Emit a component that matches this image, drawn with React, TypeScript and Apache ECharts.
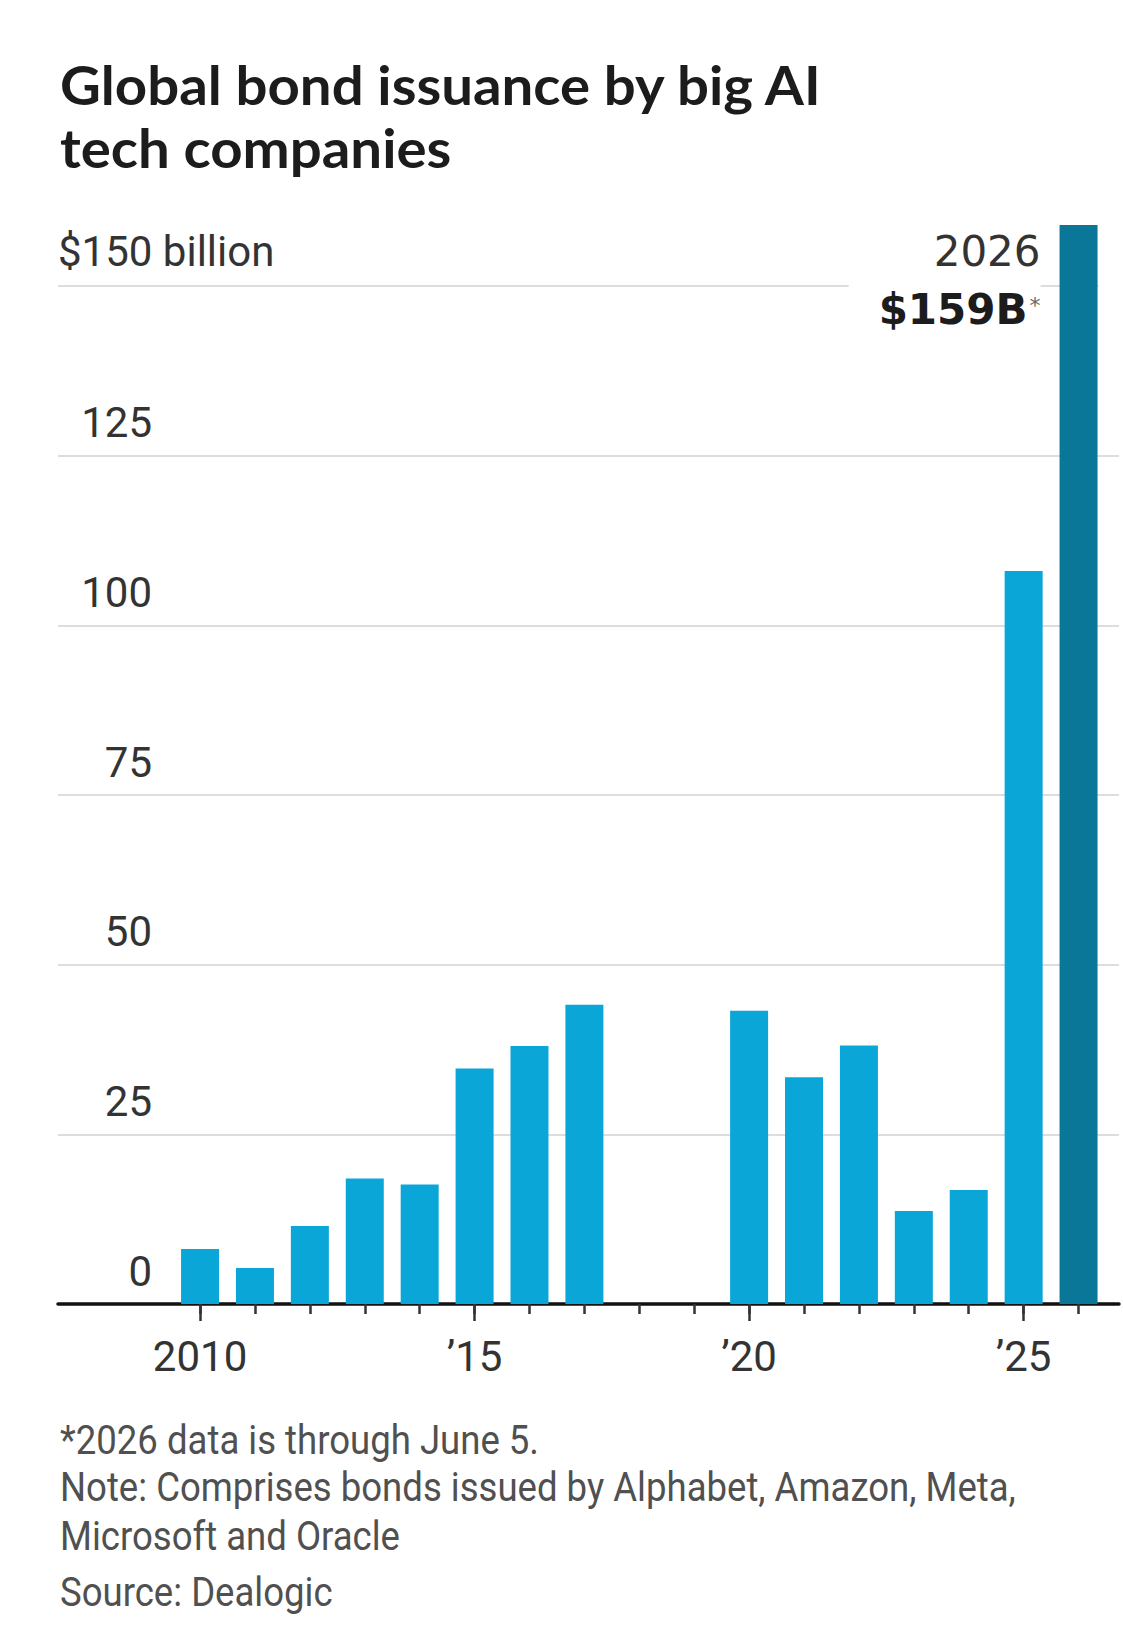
import React, { useEffect, useRef } from "react";
import * as echarts from "echarts";

// ---- data ----
const years = ["2010", "2011", "2012", "2013", "2014", "2015", "2016", "2017", "2018", "2019", "2020", "2021", "2022", "2023", "2024", "2025", "2026"];
const issuance = [8.1, 5.3, 11.5, 18.5, 17.6, 34.7, 38.0, 44.1, 0, 0, 43.2, 33.4, 38.1, 13.7, 16.8, 108.0, 159];
const yTicks = [0, 25, 50, 75, 100, 125, 150];
const majorYears = ["2010", "2015", "2020", "2025"];
const highlightYear = "2026";
const highlightLabel = "$159B";
const yAxisTitle = "$150 billion";
const titleLines = ["Global bond issuance by big AI", "tech companies"];
const noteLines = [
  "*2026 data is through June 5.",
  "Note: Comprises bonds issued by Alphabet, Amazon, Meta,",
  "Microsoft and Oracle",
  "Source: Dealogic",
];

const W = 1123;
const H = 1643;
const LIGHT = "#0aa6d8";
const DARK = "#0a7799";

function measure(text: string, font: string): number {
  const c = document.createElement("canvas").getContext("2d");
  if (!c) return 1;
  c.font = font;
  return c.measureText(text).width || 1;
}

export default function App() {
  const ref = useRef<HTMLDivElement>(null);
  useEffect(() => {
    if (!ref.current) return;
    const chart = echarts.init(ref.current, null, { renderer: "svg" });

    const titleFont = "bold 54px Lato";
    const titleScale = 764 / measure(titleLines[0], titleFont);
    const noteFont = "40px Roboto";
    const noteScale = 956 / measure(noteLines[1], noteFont);
    const titleBaselines = [105, 168];
    const noteBaselines = [1454, 1501, 1550, 1606];

    const yMax = yTicks[yTicks.length - 1];
    const tickStep = yTicks[1] - yTicks[0];

    const graphics: any[] = [];
    titleLines.forEach((t, i) => {
      graphics.push({
        type: "text",
        id: "title" + i,
        x: 60,
        y: titleBaselines[i] - 21,
        scaleX: titleScale,
        style: { text: t, font: titleFont, fill: "#1c1c1c", align: "left", verticalAlign: "middle" },
      });
    });
    noteLines.forEach((t, i) => {
      graphics.push({
        type: "text",
        id: "note" + i,
        x: 60,
        y: noteBaselines[i] - 14,
        scaleX: noteScale,
        style: { text: t, font: noteFont, fill: "#505050", align: "left", verticalAlign: "middle" },
      });
    });

    const isMajor = (_i: number, v: string) => majorYears.indexOf(String(v)) >= 0;

    const option: any = {
      animation: false,
      backgroundColor: "#ffffff",
      grid: [
        { left: 58, right: 4, top: 286, bottom: H - 1304 },
        { left: 172.6, right: 17, top: 286, bottom: H - 1304 },
      ],
      xAxis: [
        {
          gridIndex: 0,
          type: "value",
          min: 0,
          max: 1,
          axisLine: { show: true, onZero: false, lineStyle: { color: "#111", width: 3.5 } },
          axisTick: { show: false },
          axisLabel: { show: false },
          splitLine: { show: false },
        },
        {
          gridIndex: 1,
          type: "category",
          data: years,
          position: "bottom",
          axisLine: { show: false },
          axisTick: { show: true, alignWithLabel: true, interval: 0, length: 10, lineStyle: { color: "#333", width: 2.5 } },
          axisLabel: { show: false },
          splitLine: { show: false },
        },
        {
          gridIndex: 1,
          type: "category",
          data: years,
          position: "bottom",
          axisLine: { show: false },
          axisTick: { show: true, alignWithLabel: true, interval: isMajor, length: 17, lineStyle: { color: "#333", width: 2.5 } },
          axisLabel: {
            show: true,
            interval: isMajor,
            margin: 31,
            fontSize: 42,
            fontFamily: "Roboto",
            color: "#333",
            formatter: (v: string) => (v === years[0] ? v : "\u2019" + v.slice(2)),
          },
          splitLine: { show: false },
        },
      ],
      yAxis: [
        {
          gridIndex: 0,
          type: "value",
          min: 0,
          max: yMax,
          interval: tickStep,
          position: "left",
          axisLine: { show: false },
          axisTick: { show: false },
          splitLine: { show: true, lineStyle: { color: "#dddddd", width: 2 } },
          axisLabel: {
            inside: true,
            margin: 94,
            align: "right",
            verticalAlign: "bottom",
            padding: [0, 0, 12, 0],
            fontSize: 42,
            fontFamily: "Roboto",
            color: "#333",
            formatter: (v: number) => (v === yMax ? "" : String(v)),
          },
          name: yAxisTitle,
          nameLocation: "end",
          nameGap: 14,
          nameTextStyle: { align: "left", verticalAlign: "bottom", fontSize: 42, fontFamily: "Roboto", color: "#333" },
        },
        { gridIndex: 1, type: "value", min: 0, max: yMax, interval: tickStep, show: false },
      ],
      series: [
        {
          type: "bar",
          xAxisIndex: 1,
          yAxisIndex: 1,
          barWidth: 38,
          clip: false,
          itemStyle: { color: LIGHT },
          data: issuance.map((v, i) =>
            years[i] === highlightYear
              ? {
                  value: v,
                  itemStyle: { color: DARK },
                  label: {
                    show: true,
                    position: [-19, -2],
                    align: "right",
                    verticalAlign: "top",
                    backgroundColor: "#ffffff",
                    padding: [0, 0, 10, 30],
                    fontFamily: "DejaVu Sans",
                    fontSize: 42,
                    lineHeight: 58,
                    color: "#333",
                    formatter: highlightYear + "\n{b|" + highlightLabel + "}{s|*}",
                    rich: {
                      b: { fontFamily: "DejaVu Sans", fontWeight: "bold", fontSize: 42, lineHeight: 58, color: "#1c1c1c" },
                      s: { fontFamily: "DejaVu Sans", fontSize: 22, lineHeight: 22, verticalAlign: "top", padding: [14, 0, 0, 2], color: "#666" },
                    },
                  },
                }
              : v
          ),
        },
      ],
      graphic: graphics,
    };
    chart.setOption(option);

    // hide the top gridline to the right of the highlighted bar
    const p = chart.convertToPixel({ xAxisIndex: 1, yAxisIndex: 1 } as any, [highlightYear, yMax]) as number[];
    if (p && isFinite(p[0])) {
      chart.setOption({
        graphic: [
          {
            type: "rect",
            id: "mask",
            z: 10,
            shape: { x: p[0] + 20, y: p[1] - 4, width: W - p[0] - 20, height: 8 },
            style: { fill: "#ffffff" },
          },
        ],
      });
    }

    return () => chart.dispose();
  }, []);

  return (
    <div
      ref={ref}
      style={{ position: "absolute", left: 0, top: 0, width: W, height: H, background: "#fff" }}
    />
  );
}
